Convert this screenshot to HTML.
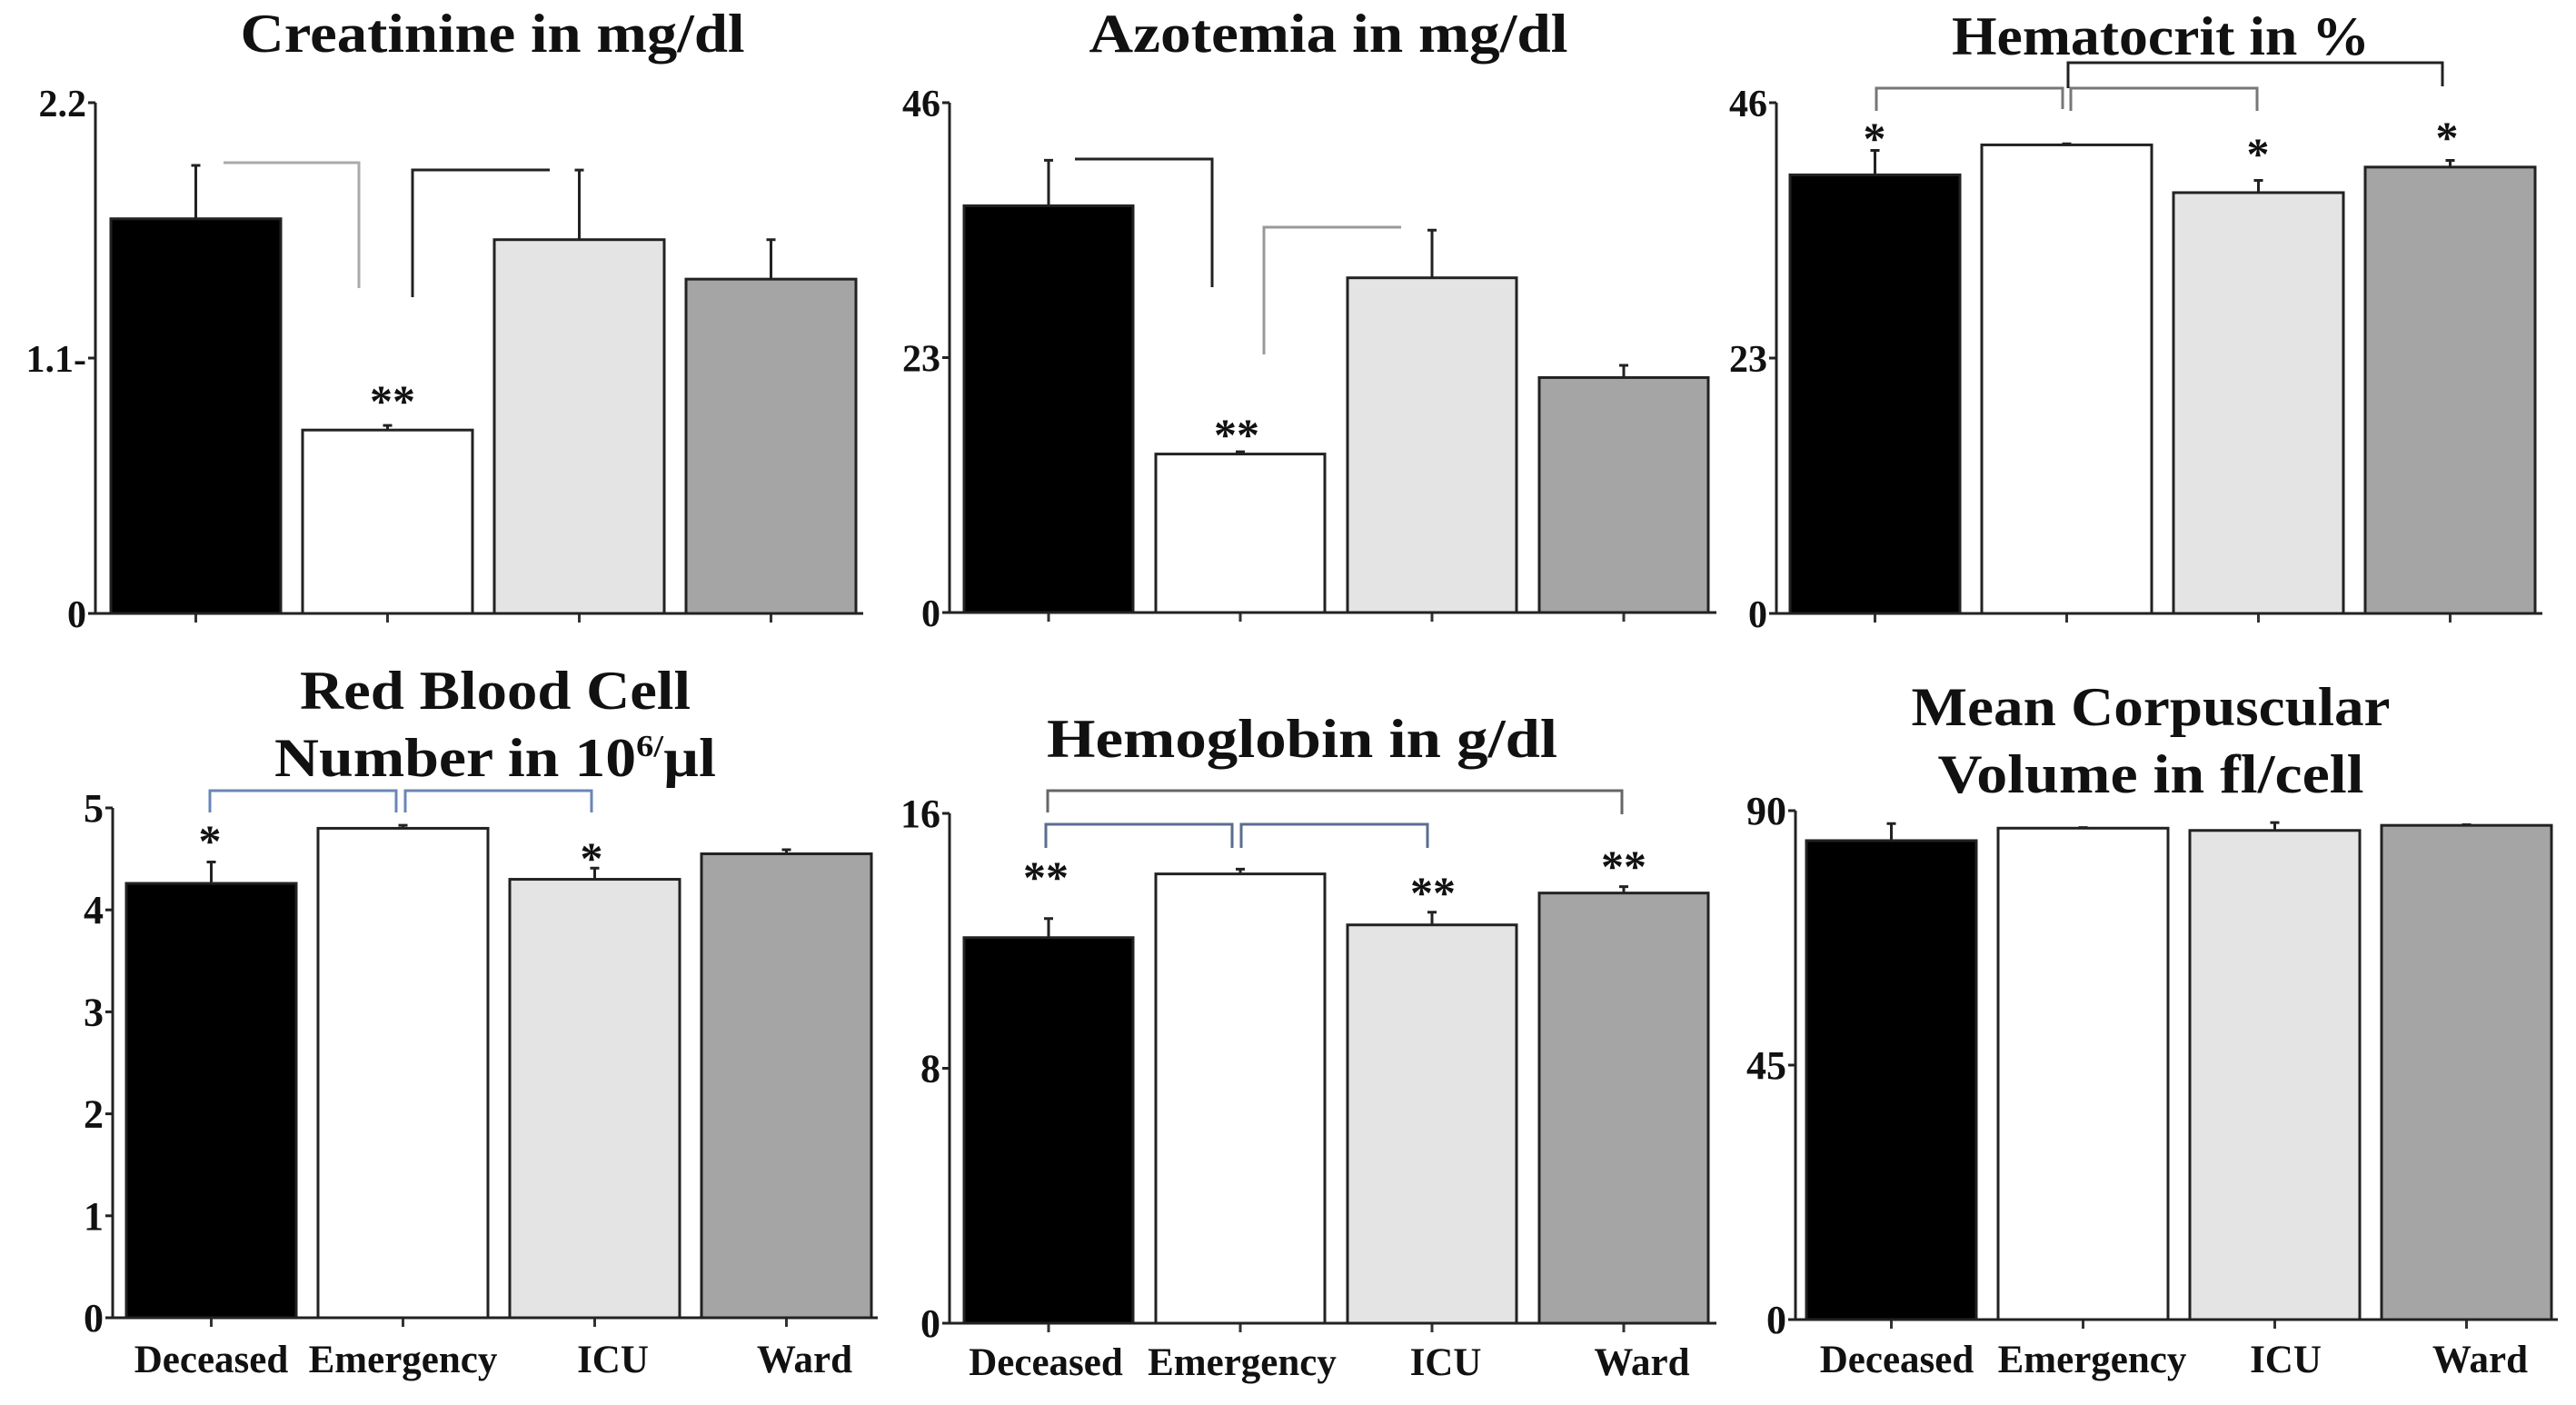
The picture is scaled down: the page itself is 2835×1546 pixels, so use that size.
<!DOCTYPE html>
<html><head><meta charset="utf-8">
<style>
html,body{margin:0;padding:0;background:#fff;}
svg{display:block;}
text{font-family:"Liberation Serif",serif;font-weight:bold;fill:#111;}
</style></head>
<body>
<svg id="fig" width="2835" height="1546" viewBox="0 0 2835 1546" xmlns="http://www.w3.org/2000/svg"></svg>
<script>
// ---- shared data ----
const categories = ["Deceased","Emergency","ICU","Ward"];
const barColors = ["#000000","#ffffff","#e5e4e5","#a5a5a5"];

// Creatinine
const creatValues = [1.70, 0.79, 1.61, 1.44];
const creatErrors = [0.23, 0.02, 0.30, 0.17];
const creatTicks = [0, 1.1, 2.2];
const creatTickLabels = ["0","1.1-","2.2"];
// Azotemia
const azoValues = [36.7, 14.3, 30.2, 21.2];
const azoErrors = [4.1, 0.2, 4.3, 1.1];
const azoTicks = [0, 23, 46];
const azoTickLabels = ["0","23","46"];
// Hematocrit
const hctValues = [39.5, 42.2, 37.9, 40.2];
const hctErrors = [2.2, 0.1, 1.1, 0.6];
const hctTicks = [0, 23, 46];
const hctTickLabels = ["0","23","46"];
// RBC
const rbcValues = [4.26, 4.80, 4.30, 4.55];
const rbcErrors = [0.21, 0.03, 0.11, 0.04];
const rbcTicks = [0,1,2,3,4,5];
const rbcTickLabels = ["0","1","2","3","4","5"];
// Hemoglobin
const hbValues = [12.1, 14.1, 12.5, 13.5];
const hbErrors = [0.6, 0.15, 0.4, 0.2];
const hbTicks = [0, 8, 16];
const hbTickLabels = ["0","8","16"];
// MCV
const mcvValues = [84.7, 86.9, 86.5, 87.4];
const mcvErrors = [3.0, 0.1, 1.4, 0.1];
const mcvTicks = [0, 45, 90];
const mcvTickLabels = ["0","45","90"];

const NS = "http://www.w3.org/2000/svg";
const svg = document.getElementById("fig");
function mk(tag, attrs, parent){
  const e = document.createElementNS(NS, tag);
  for (const k in attrs) e.setAttribute(k, attrs[k]);
  (parent||svg).appendChild(e);
  return e;
}

function panel(cfg){
  const g = mk("g", {});
  
  
  const y = v => cfg.y0 - (v / cfg.max) * (cfg.y0 - cfg.yTop);
  const xLeft = i => cfg.barLeft + i * cfg.pitch;
  const xC = i => xLeft(i) + cfg.barW / 2;
  // title
  cfg.title.forEach((t, k) => {
    const tt = mk("text", {x: cfg.titleX, y: cfg.titleY[k], "text-anchor":"middle", "font-size": 60, textLength: cfg.titleW[k], lengthAdjust:"spacingAndGlyphs"}, g);
    
    
    if (typeof t === 'object') {
      tt.appendChild(document.createTextNode(t.a));
      const s = mk("tspan", {"font-size": 34, dy: -22}, tt); s.textContent = t.s;
      const r = mk("tspan", {dy: 22}, tt); r.textContent = t.b;
    } else tt.textContent = t;
  });
  // bars
  cfg.values.forEach((v, i) => {
    const r = mk("rect", {x: xLeft(i), y: y(v), width: cfg.barW, height: y(0) - y(v), fill: barColors[i], stroke: "#222", "stroke-width": 3}, g);
    
    
    const e = mk("path", {d: `M${xC(i)} ${y(v)} V${y(v + cfg.errors[i])} M${xC(i)-5} ${y(v + cfg.errors[i])} H${xC(i)+5}`, stroke: "#222", "stroke-width": 3, fill: "none"}, g);
    
    
    const tk = mk("line", {x1: xC(i), x2: xC(i), y1: cfg.y0, y2: cfg.y0 + 10, stroke: "#333", "stroke-width": 3}, g);
    
    
    if (cfg.showCats) {
      const ct = mk("text", {x: xC(i) + cfg.catShift[i], y: cfg.catY, "text-anchor": "middle", "font-size": 43}, g);
      
      
      ct.textContent = categories[i];
    }
  });
  // axes
  const ax = mk("path", {d: `M${cfg.axisX} ${cfg.yTop} V${cfg.y0} H${cfg.axisEnd}`, stroke: "#222", "stroke-width": 3, fill: "none"}, g);
  
  
  cfg.ticks.forEach((t, k) => {
    const l = mk("line", {x1: cfg.axisX - 8, x2: cfg.axisX, y1: y(t), y2: y(t), stroke: "#222", "stroke-width": 3}, g);
    
    
    const tx = mk("text", {x: cfg.axisX - 10, y: y(t) + 15, "text-anchor": "end", "font-size": cfg.tickSize}, g);
    
    
    tx.textContent = cfg.tickLabels[k];
  });
  // brackets
  (cfg.brackets || []).forEach(b => {
    const p = mk("path", {d: b.d, stroke: b.c, "stroke-width": 3, fill: "none"}, g);
    
    
  });
  (cfg.stars || []).forEach(s => {
    const st = mk("text", {x: s.x, y: s.y + 22, "text-anchor": "middle", "font-size": 50}, g);
    
    
    st.textContent = s.t;
  });
}

panel({name:"creatinine-panel", values: creatValues, errors: creatErrors, ticks: creatTicks, tickLabels: creatTickLabels, max: 2.2,
  yTop:113, y0:675, axisX:105, axisEnd:950, barLeft:122, barW:187, pitch:211, tickSize:42,
  title:["Creatinine in mg/dl"], titleX:542, titleY:[57], titleW:[555],
  brackets:[{d:"M246 179 H395 V317", c:"#aaa"},{d:"M454 327 V187 H605", c:"#222"}],
  stars:[{x:432,y:436,t:"**"}]});

panel({name:"azotemia-panel", values: azoValues, errors: azoErrors, ticks: azoTicks, tickLabels: azoTickLabels, max: 46,
  yTop:113, y0:674, axisX:1045, axisEnd:1889, barLeft:1061, barW:186, pitch:211, tickSize:42,
  title:["Azotemia in mg/dl"], titleX:1462, titleY:[57], titleW:[527],
  brackets:[{d:"M1183 175 H1334 V316", c:"#222"},{d:"M1391 390 V250 H1542", c:"#999"}],
  stars:[{x:1361,y:473,t:"**"}]});

panel({name:"hematocrit-panel", values: hctValues, errors: hctErrors, ticks: hctTicks, tickLabels: hctTickLabels, max: 46,
  yTop:113, y0:675, axisX:1955, axisEnd:2798, barLeft:1970, barW:187, pitch:211, tickSize:42,
  title:["Hematocrit in %"], titleX:2378, titleY:[60], titleW:[460],
  brackets:[{d:"M2065 122 V97 H2270 V120", c:"#777"},{d:"M2279 122 V97 H2484 V122", c:"#777"},{d:"M2276 97 V69 H2688 V95", c:"#222"}],
  stars:[{x:2063,y:147,t:"*"},{x:2485,y:164,t:"*"},{x:2693,y:146,t:"*"}]});

panel({name:"rbc-panel", values: rbcValues, errors: rbcErrors, ticks: rbcTicks, tickLabels: rbcTickLabels, max: 5,
  yTop:889, y0:1450, axisX:124, axisEnd:966, barLeft:139, barW:187, pitch:211, tickSize:44,
  showCats:true, catY:1510, catShift:[0,0,20,20],
  title:["Red Blood Cell", {a:"Number in 10", s:"6/", b:"µl"}], titleX:545, titleY:[780, 854], titleW:[430, 486],
  brackets:[{d:"M231 894 V870 H436 V894", c:"#6a86b8"},{d:"M446 894 V870 H651 V894", c:"#6a86b8"}],
  stars:[{x:231,y:920,t:"*"},{x:651,y:939,t:"*"}]});

panel({name:"hemoglobin-panel", values: hbValues, errors: hbErrors, ticks: hbTicks, tickLabels: hbTickLabels, max: 16,
  yTop:895, y0:1456, axisX:1045, axisEnd:1889, barLeft:1061, barW:186, pitch:211, tickSize:44,
  showCats:true, catY:1513, catShift:[-3,2,15,20],
  title:["Hemoglobin in g/dl"], titleX:1433, titleY:[833], titleW:[562],
  brackets:[{d:"M1153 894 V870 H1785 V896", c:"#666"},{d:"M1151 933 V907 H1356 V933", c:"#5a6d90"},{d:"M1366 933 V907 H1571 V933", c:"#5a6d90"}],
  stars:[{x:1151,y:960,t:"**"},{x:1577,y:977,t:"**"},{x:1787,y:948,t:"**"}]});

panel({name:"mcv-panel", values: mcvValues, errors: mcvErrors, ticks: mcvTicks, tickLabels: mcvTickLabels, max: 90,
  yTop:892, y0:1452, axisX:1976, axisEnd:2815, barLeft:1988, barW:187, pitch:211, tickSize:44,
  showCats:true, catY:1510, catShift:[6,10,12,15],
  title:["Mean Corpuscular","Volume in fl/cell"], titleX:2367, titleY:[798, 872], titleW:[527, 469]});
</script>
</body></html>
